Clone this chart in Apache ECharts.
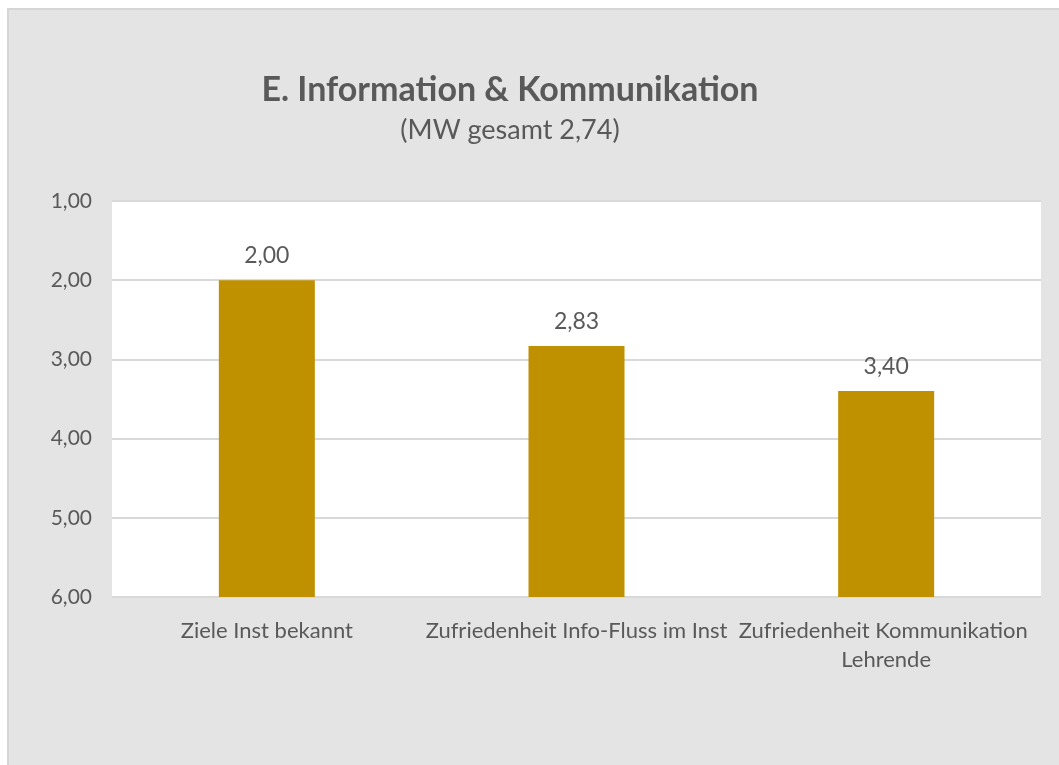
<!DOCTYPE html>
<html>

<head>
    <meta charset="utf-8">
    <script src="https://cdn.jsdelivr.net/npm/echarts@6/dist/echarts.min.js"></script>
    <style>
        html, body { margin: 0; padding: 0; background: #ffffff; }
        #frame {
            position: absolute; left: 7px; top: 8px; right: 0; bottom: 0;
            background: #e4e4e4;
            border-left: 2px solid #d6d6d6;
            border-top: 2px solid #d6d6d6;
        }
        #echartsMain { width: 100%; height: 100%; }
    </style>
</head>

<body>
<div id="frame"><div id="echartsMain"></div></div>
</body>

</html>

<script type="text/javascript">
    let categories = ['Ziele Inst bekannt', 'Zufriedenheit Info-Fluss im Inst', 'Zufriedenheit Kommunikation Lehrende']
    let values = [2.00, 2.83, 3.40]
    let yTicks = [1, 2, 3, 4, 5, 6]

    let axisMin = yTicks[0]
    let axisMax = yTicks[yTicks.length - 1]

    function fmt(v) {
        return v.toFixed(2).replace('.', ',')
    }

    function draw() {
        let myChart = echarts.init(document.getElementById('echartsMain'));
        let textColor = '#595959'
        let font = 'Lato, "Open Sans", sans-serif'

        let option = {
            animation: false,
            textStyle: { fontFamily: font },
            title: [{
                text: 'E. Information & Kommunikation',
                left: 501,
                top: 63,
                padding: 0,
                textAlign: 'center',
                textStyle: { color: textColor, fontSize: 34, fontWeight: 'bold', fontFamily: font }
            }, {
                text: '(MW gesamt 2,74)',
                left: 501,
                top: 107,
                padding: 0,
                textAlign: 'center',
                textStyle: { color: textColor, fontSize: 27, fontWeight: 'normal', fontFamily: font }
            }],
            grid: {
                left: 103,
                top: 191,
                width: 929,
                height: 396,
                show: true,
                backgroundColor: '#ffffff',
                borderWidth: 0
            },
            xAxis: {
                type: 'category',
                data: categories,
                axisLine: { show: false },
                axisTick: { show: false },
                axisLabel: {
                    interval: 0,
                    color: textColor,
                    fontSize: 22,
                    margin: 19,
                    lineHeight: 29,
                    width: 305,
                    overflow: 'break'
                }
            },
            yAxis: {
                type: 'value',
                inverse: true,
                min: axisMin,
                max: axisMax,
                interval: 1,
                axisLine: { show: false },
                axisTick: { show: false },
                splitLine: { lineStyle: { color: '#d9d9d9', width: 2 } },
                axisLabel: {
                    color: textColor,
                    fontSize: 21,
                    margin: 20,
                    formatter: v => fmt(v)
                }
            },
            series: [
                {
                    // invisible spacer from the top of the axis down to the value
                    type: 'bar',
                    stack: 'bar',
                    data: values,
                    barWidth: '31%',
                    itemStyle: { color: 'transparent' },
                    silent: true
                },
                {
                    type: 'bar',
                    stack: 'bar',
                    data: values.map(v => axisMax - v),
                    barWidth: '31%',
                    itemStyle: { color: '#bf9000' },
                    label: {
                        show: true,
                        position: 'top',
                        distance: 13,
                        color: textColor,
                        fontSize: 23,
                        formatter: p => fmt(values[p.dataIndex])
                    }
                }
            ]
        };
        myChart.setOption(option);
    }

    draw()
</script>
